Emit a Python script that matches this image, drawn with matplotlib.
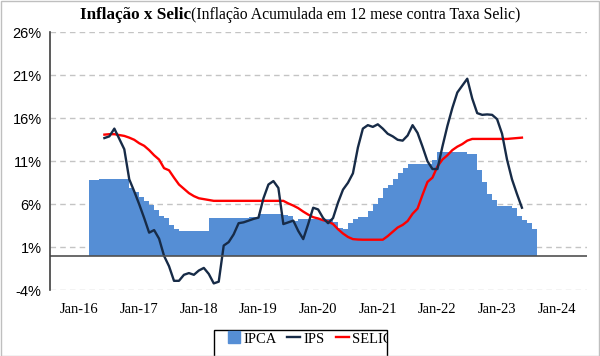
import numpy as np
import matplotlib
matplotlib.use("Agg")
import matplotlib.pyplot as plt
from matplotlib.lines import Line2D
from matplotlib.patches import Rectangle

# x positions are months counted from Jan-2016 (0 = Jan-16)
ipca_start = 2   # first bar: Mar-2016
ipca = [8.8, 8.8, 8.95, 8.95, 8.95, 8.95, 8.95, 8.95,
        7.9, 7.4, 6.9, 6.35, 5.9, 5.3, 4.65, 4.45, 3.55, 3.1,
        2.9, 2.9, 2.9, 2.9, 2.9, 2.9,
        4.37, 4.45, 4.45, 4.45, 4.45, 4.45, 4.45, 4.45,
        4.52, 4.52, 4.84, 4.84, 4.84, 4.84, 4.84, 4.75, 4.64, 4.05,
        4.25, 4.25, 4.25, 4.25, 4.25, 4.25, 4.25,
        3.94, 3.28, 3.09, 3.86, 4.33, 4.52, 4.52,
        5.22, 6.0, 6.77, 7.93, 8.3, 8.9, 9.6, 10.2, 10.65,
        10.7, 10.7, 10.7, 10.7, 11.2,
        12.05, 12.05, 12.05, 12.05, 12.05, 12.05, 11.8, 11.8,
        9.95, 8.6, 7.15, 6.46, 5.8, 5.8, 5.8, 5.6, 4.64, 4.14, 3.86, 3.09]

ips_start = 5    # Jun-2016
ips = [13.7, 13.9, 14.8, 13.6, 12.4,
       8.9, 7.5, 6.0, 4.4, 2.7, 3.0, 2.0, 0.0, -1.2, -2.9,
       -2.9, -2.2, -2.0, -2.2, -1.7, -1.4, -2.1, -3.2, -3.0, 1.2,
       1.6, 2.5, 3.8, 3.9, 4.1, 4.3, 4.45, 6.7, 8.3, 8.7,
       7.9, 3.7, 3.9, 4.1, 2.9, 1.95, 3.7, 5.6, 5.4, 4.4,
       3.8, 4.4, 6.2, 7.7, 8.5, 9.6, 12.6, 14.8, 15.2, 15.0,
       15.3, 14.8, 14.2, 13.9, 13.5, 13.4, 14.0, 15.2, 14.3, 12.7,
       11.0, 10.1, 10.1, 12.7, 15.1, 17.2, 19.0, 19.8, 20.6, 18.3,
       16.6, 16.4, 16.45, 16.4, 15.9, 14.2, 11.2, 8.9, 7.2, 5.6]

selic_start = 5
selic = [14.1, 14.15, 14.15, 14.05, 13.95,
         13.75, 13.5, 13.1, 12.8, 12.3, 11.7, 11.2, 10.2, 9.95, 9.1,
         8.3, 7.8, 7.3, 6.95, 6.7, 6.6, 6.5, 6.4, 6.4, 6.4,
         6.4, 6.4, 6.4, 6.4, 6.4, 6.4, 6.4, 6.4, 6.4, 6.4,
         6.4, 6.4, 6.1, 5.85, 5.55, 5.15, 4.8, 4.5, 4.35, 4.15,
         4.0, 3.7, 3.1, 2.6, 2.2, 1.95, 1.9, 1.88, 1.88, 1.88,
         1.88, 1.88, 2.3, 2.8, 3.3, 3.6, 4.05, 4.9, 5.5, 7.1,
         8.6, 9.1, 10.4, 11.2, 11.7, 12.3, 12.7, 13.0, 13.4, 13.6,
         13.6, 13.6, 13.6, 13.6, 13.6, 13.6, 13.6, 13.65, 13.7, 13.75]

year_ticks = [0, 12, 24, 36, 48, 60, 72, 84, 96]
year_labels = ["Jan-16", "Jan-17", "Jan-18", "Jan-19", "Jan-20",
               "Jan-21", "Jan-22", "Jan-23", "Jan-24"]
y_ticks = [-4, 1, 6, 11, 16, 21, 26]

bar_color = "#558ED5"
ips_color = "#172B47"
selic_color = "#FF0000"
serif = "Liberation Serif"

fig = plt.figure(figsize=(6, 3.56), dpi=100)
ax = fig.add_axes([0.0833, 0.1846, 0.8947, 0.7247])

ipca_x = np.arange(len(ipca)) + ipca_start
ips_x = np.arange(len(ips)) + ips_start
selic_x = np.arange(len(selic)) + selic_start

ax.bar(ipca_x, ipca, width=1.0, align="edge", color=bar_color, linewidth=0, zorder=2)
ax.plot(ips_x, ips, color=ips_color, lw=1.7, zorder=4)
ax.plot(selic_x, selic, color=selic_color, lw=1.7, zorder=3)

ax.set_xlim(-5.95, 102.05)
ax.set_ylim(-4, 26)
ax.set_yticks(y_ticks)
ax.set_yticklabels([f"{v}%" for v in y_ticks], fontfamily="Liberation Sans", fontsize=10.5)
ax.set_xticks(year_ticks)
ax.set_xticklabels(year_labels, fontfamily=serif, fontsize=10.5)
ax.tick_params(axis="both", length=0)
ax.tick_params(axis="x", pad=9)
ax.tick_params(axis="y", pad=6)

# dashed horizontal gridlines
ax.set_axisbelow(True)
ax.yaxis.grid(True, color="#C4C4C4", linestyle="--", dashes=(4, 3), linewidth=1.0)
for s in ["top", "right", "bottom"]:
    ax.spines[s].set_visible(False)
ax.spines["left"].set_color("#404040")
ax.spines["left"].set_linewidth(1.2)
ax.spines["left"].set_zorder(6)
ax.axhline(0, color="#505050", lw=1.2, zorder=5)

# title: bold part + regular part
fig.text(0.318, 0.957, "Inflação x Selic", ha="right", va="center",
         fontfamily=serif, fontweight="bold", fontsize=12.3)
fig.text(0.318, 0.957, "(Inflação Acumulada em 12 mese contra Taxa Selic)", ha="left",
         va="center", fontfamily=serif, fontsize=11.3)

# legend with a box running off the bottom edge
box = Rectangle((213.5 / 600, -0.05), (387 - 213.5) / 600, 0.05 + (356 - 329.5) / 356,
                transform=fig.transFigure, fill=False, edgecolor="black", lw=1.0)
fig.add_artist(box)
handles = [Line2D([], [], marker="s", ls="", color=bar_color, markersize=8),
           Line2D([], [], color=ips_color, lw=1.7),
           Line2D([], [], color=selic_color, lw=1.7)]
leg = fig.legend(handles, ["IPCA", "IPS", "SELIC"], loc="center", ncol=3,
                 bbox_to_anchor=(0.516, 0.048), frameon=False, handlelength=0.9,
                 handletextpad=0.2, columnspacing=0.75, prop={"family": serif, "size": 10.5})
for t in leg.get_texts():
    t.set_clip_path(box)

fig.add_artist(Rectangle((0.001, 0.001), 0.997, 0.997, transform=fig.transFigure,
                         fill=False, edgecolor="#BFBFBF", lw=1.0))

fig.savefig("out.png", dpi=100)
